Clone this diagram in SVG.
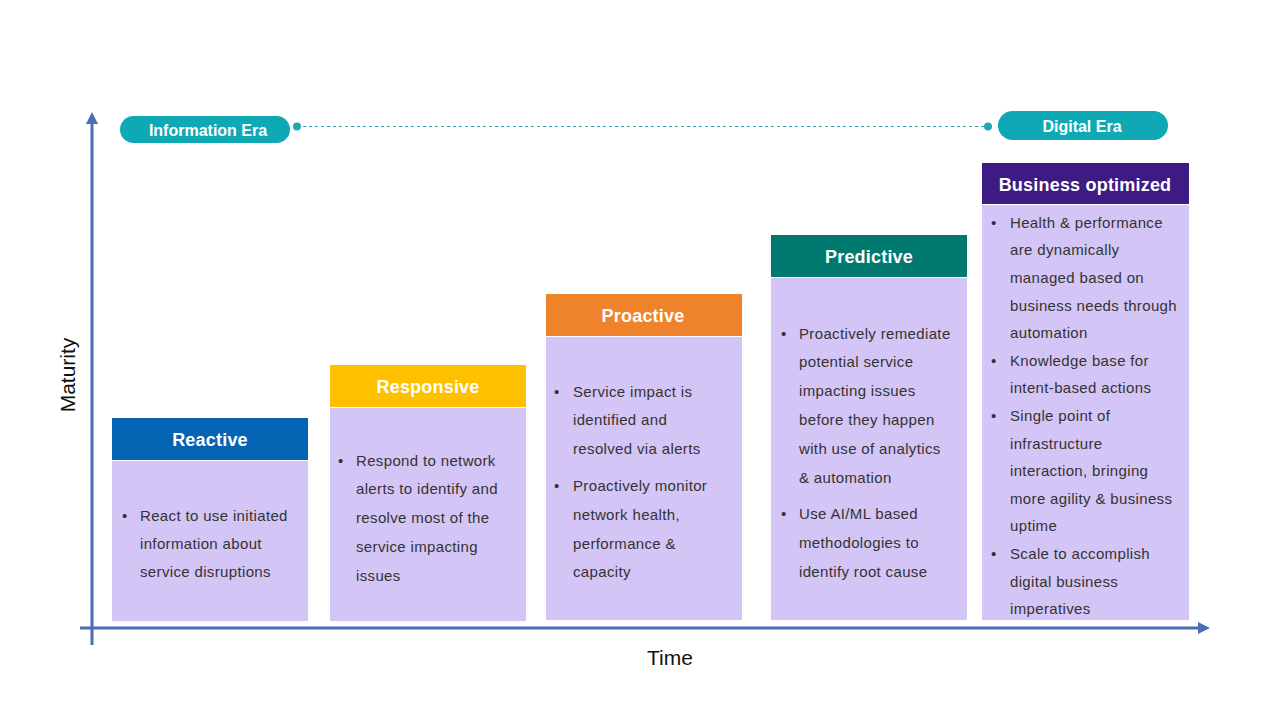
<svg xmlns="http://www.w3.org/2000/svg" width="1280" height="720" viewBox="0 0 1280 720">
<style>
.hdr{font-family:"Liberation Sans",Arial,sans-serif;font-weight:bold;font-size:18px;letter-spacing:0.2px;fill:#ffffff;text-anchor:middle}
.pill{font-family:"Liberation Sans",Arial,sans-serif;font-weight:bold;font-size:16px;fill:#ffffff;text-anchor:middle}
.body{fill:#d3c5f5}
.txt{font-family:"Liberation Sans",Arial,sans-serif;font-size:15px;letter-spacing:0.35px;fill:#333333}
.ax{font-family:"Liberation Sans",Arial,sans-serif;font-size:21px;fill:#111111}
.axis{stroke:#4a6db3;stroke-width:3;fill:none}
</style>
<defs>
<marker id="arr" viewBox="0 0 10 10" refX="5" refY="5" markerWidth="4" markerHeight="4" orient="auto">
<path d="M0,0 L10,5 L0,10 Z" fill="#4a6db3"/>
</marker>
</defs>
<rect width="1280" height="720" fill="#ffffff"/>

<g id="connectors">
<line class="axis" x1="92" y1="645" x2="92" y2="118" marker-end="url(#arr)"/>
<line class="axis" x1="80" y1="628" x2="1204" y2="628" marker-end="url(#arr)"/>
<line x1="297" y1="126.5" x2="988" y2="126.5" stroke="#20a7b6" stroke-width="1.2" stroke-dasharray="3,3"/>
<circle cx="297" cy="126.5" r="4" fill="#20a7b6"/>
<circle cx="988" cy="126.5" r="4" fill="#20a7b6"/>
</g>

<text class="ax" x="75" y="375" text-anchor="middle" font-size="22" transform="rotate(-90 75 375)">Maturity</text>
<text class="ax" x="670" y="665" text-anchor="middle">Time</text>

<g id="information-era">
<rect x="120" y="116" width="170" height="27" rx="13.5" fill="#0fa9b6"/>
<text class="pill" x="208" y="135.5">Information Era</text>
</g>
<g id="digital-era">
<rect x="998" y="111" width="170" height="29" rx="14.5" fill="#0fa9b6"/>
<text class="pill" x="1082" y="131.5">Digital Era</text>
</g>

<g id="reactive">
<rect x="112" y="418" width="196" height="42" fill="#0563b4"/>
<rect class="body" x="112" y="461" width="196" height="160"/>
<text class="hdr" x="210" y="445.5">Reactive</text>
<text class="txt"><tspan x="122" y="521">•</tspan><tspan x="140" y="521">React to use initiated</tspan><tspan x="140" y="549">information about</tspan><tspan x="140" y="577">service disruptions</tspan></text>
</g>

<g id="responsive">
<rect x="330" y="365" width="196" height="42" fill="#ffc000"/>
<rect class="body" x="330" y="408" width="196" height="213"/>
<text class="hdr" x="428" y="392.5">Responsive</text>
<text class="txt"><tspan x="338" y="466">•</tspan><tspan x="356" y="466">Respond to network</tspan><tspan x="356" y="494">alerts to identify and</tspan><tspan x="356" y="523">resolve most of the</tspan><tspan x="356" y="552">service impacting</tspan><tspan x="356" y="581">issues</tspan></text>
</g>

<g id="proactive">
<rect x="546" y="294" width="196" height="42" fill="#ee832b"/>
<rect class="body" x="546" y="337" width="196" height="283"/>
<text class="hdr" x="643" y="321.5">Proactive</text>
<text class="txt"><tspan x="554" y="397">•</tspan><tspan x="573" y="397">Service impact is</tspan><tspan x="573" y="425">identified and</tspan><tspan x="573" y="454">resolved via alerts</tspan><tspan x="554" y="491">•</tspan><tspan x="573" y="491">Proactively monitor</tspan><tspan x="573" y="520">network health,</tspan><tspan x="573" y="549">performance &amp;</tspan><tspan x="573" y="577">capacity</tspan></text>
</g>

<g id="predictive">
<rect x="771" y="235" width="196" height="42" fill="#00796f"/>
<rect class="body" x="771" y="278" width="196" height="342"/>
<text class="hdr" x="869" y="262.5">Predictive</text>
<text class="txt"><tspan x="781" y="339">•</tspan><tspan x="799" y="339">Proactively remediate</tspan><tspan x="799" y="367">potential service</tspan><tspan x="799" y="396">impacting issues</tspan><tspan x="799" y="425">before they happen</tspan><tspan x="799" y="454">with use of analytics</tspan><tspan x="799" y="483">&amp; automation</tspan><tspan x="781" y="519">•</tspan><tspan x="799" y="519">Use AI/ML based</tspan><tspan x="799" y="548">methodologies to</tspan><tspan x="799" y="577">identify root cause</tspan></text>
</g>

<g id="business-optimized">
<rect x="982" y="163" width="207" height="41" fill="#3e1a83"/>
<rect class="body" x="982" y="205" width="207" height="415"/>
<text class="hdr" x="1085" y="190.5">Business optimized</text>
<text class="txt"><tspan x="991" y="228">•</tspan><tspan x="1010" y="228">Health &amp; performance</tspan><tspan x="1010" y="255">are dynamically</tspan><tspan x="1010" y="283">managed based on</tspan><tspan x="1010" y="311">business needs through</tspan><tspan x="1010" y="338">automation</tspan><tspan x="991" y="366">•</tspan><tspan x="1010" y="366">Knowledge base for</tspan><tspan x="1010" y="393">intent-based actions</tspan><tspan x="991" y="421">•</tspan><tspan x="1010" y="421">Single point of</tspan><tspan x="1010" y="449">infrastructure</tspan><tspan x="1010" y="476">interaction, bringing</tspan><tspan x="1010" y="504">more agility &amp; business</tspan><tspan x="1010" y="531">uptime</tspan><tspan x="991" y="559">•</tspan><tspan x="1010" y="559">Scale to accomplish</tspan><tspan x="1010" y="587">digital business</tspan><tspan x="1010" y="614">imperatives</tspan></text>
</g>
</svg>
